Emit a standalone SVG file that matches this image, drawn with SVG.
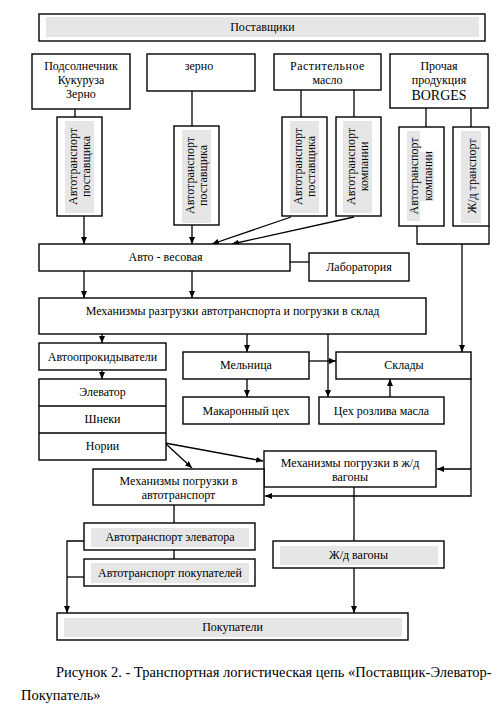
<svg xmlns="http://www.w3.org/2000/svg" width="504" height="708" viewBox="0 0 504 708">
<style>
.b{fill:#fff;stroke:#000;stroke-width:1.4}
.g{fill:#e6e6e6;stroke:none}
text{font-family:'Liberation Serif','DejaVu Serif','Times New Roman',serif}
.t{font-size:12px;fill:#000;text-anchor:middle}
.cap{font-size:14.5px;fill:#000}
#connectors line,#connectors polyline{stroke:#000;stroke-width:1.3;fill:none}
.a{marker-end:url(#arr)}
</style>
<defs>
<marker id="arr" markerUnits="userSpaceOnUse" markerWidth="8" markerHeight="6" refX="7" refY="3" orient="auto">
<path d="M0,0 L7,3 L0,6 z" fill="#000"/>
</marker>
</defs>
<rect width="504" height="708" fill="#fff"/>

<g id="connectors">
<line x1="75" y1="109" x2="75" y2="117"/>
<line x1="192" y1="91" x2="192" y2="126"/>
<line x1="301" y1="90" x2="301" y2="117"/>
<line x1="354" y1="90" x2="354" y2="117"/>
<line x1="426" y1="108" x2="426" y2="127"/>
<line x1="471" y1="108" x2="471" y2="127"/>
<line class="a" x1="84" y1="216" x2="84" y2="244"/>
<line class="a" x1="192" y1="225" x2="192" y2="244"/>
<line class="a" x1="291" y1="217" x2="212" y2="244"/>
<line class="a" x1="354" y1="217" x2="232" y2="244"/>
<line x1="290" y1="262" x2="309" y2="262"/>
<line class="a" x1="84" y1="271" x2="84" y2="298"/>
<line class="a" x1="192" y1="271" x2="192" y2="298"/>
<line class="a" x1="102" y1="334" x2="102" y2="343"/>
<line class="a" x1="102" y1="370" x2="102" y2="379"/>
<line class="a" x1="247" y1="334" x2="247" y2="352"/>
<line class="a" x1="247" y1="379" x2="247" y2="397"/>
<line class="a" x1="328" y1="334" x2="328" y2="397"/>
<line class="a" x1="309" y1="361" x2="336" y2="361"/>
<line class="a" x1="390" y1="397" x2="390" y2="379"/>
<polyline points="417,226 417,244 489,244 489,226"/>
<line class="a" x1="462" y1="244" x2="462" y2="352"/>
<line class="a" x1="165" y1="443" x2="192" y2="468"/>
<line class="a" x1="165" y1="443" x2="263" y2="461"/>
<polyline class="a" points="471,379 471,496 265,496"/>
<line class="a" x1="471" y1="469" x2="437" y2="469"/>
<line x1="354" y1="487" x2="354" y2="541"/>
<line class="a" x1="354" y1="568" x2="354" y2="613"/>
<line x1="174" y1="505" x2="174" y2="523"/>
<line x1="174" y1="550" x2="174" y2="559"/>
<polyline class="a" points="84,541 67,541 67,613"/>
<line x1="67" y1="577" x2="84" y2="577"/>
</g>

<g id="suppliers">
<rect class="b" x="39" y="14" width="446" height="27"/>
<rect class="g" x="46" y="17" width="433" height="20"/>
<text class="t" x="262.5" y="31">Поставщики</text>
</g>

<g id="sunflower">
<rect class="b" x="32" y="54" width="98" height="55"/>
<text class="t" x="81" y="70">Подсолнечник</text>
<text class="t" x="81" y="84">Кукуруза</text>
<text class="t" x="81" y="98">Зерно</text>
</g>

<g id="grain">
<rect class="b" x="147" y="54" width="108" height="37"/>
<text class="t" x="199" y="70">зерно</text>
</g>

<g id="oil">
<rect class="b" x="274" y="54" width="107" height="36"/>
<text class="t" x="327.5" y="70" letter-spacing="0.5">Растительное</text>
<text class="t" x="327.5" y="84">масло</text>
</g>

<g id="borges">
<rect class="b" x="390" y="54" width="98" height="54"/>
<text class="t" x="439" y="70">Прочая</text>
<text class="t" x="439" y="84">продукция</text>
<text class="t" x="439" y="100" style="font-size:14px">BORGES</text>
</g>

<g id="truck1">
<rect class="b" x="57" y="117" width="45" height="99"/>
<rect class="g" x="65" y="121" width="29" height="92"/>
<text class="t" transform="translate(77,166.5) rotate(-90)">Автотранспорт</text>
<text class="t" transform="translate(90,166.5) rotate(-90)">поставщика</text>
</g>

<g id="truck2">
<rect class="b" x="174" y="126" width="45" height="99"/>
<rect class="g" x="182" y="130" width="29" height="93"/>
<text class="t" transform="translate(194,175.5) rotate(-90)">Автотранспорт</text>
<text class="t" transform="translate(207,175.5) rotate(-90)">поставщика</text>
</g>

<g id="truck3">
<rect class="b" x="282" y="117" width="45" height="99"/>
<rect class="g" x="290" y="121" width="29" height="92"/>
<text class="t" transform="translate(302,166.5) rotate(-90)">Автотранспорт</text>
<text class="t" transform="translate(315,166.5) rotate(-90)">поставщика</text>
</g>

<g id="truck4">
<rect class="b" x="336" y="117" width="45" height="99"/>
<rect class="g" x="343" y="121" width="29" height="92"/>
<text class="t" transform="translate(355,166.5) rotate(-90)">Автотранспорт</text>
<text class="t" transform="translate(368,166.5) rotate(-90)">компании</text>
</g>

<g id="truck5">
<rect class="b" x="399" y="127" width="45" height="99"/>
<rect class="g" x="407" y="131" width="13" height="90"/>
<rect class="g" x="420" y="152" width="14" height="49"/>
<text class="t" transform="translate(418,176) rotate(-90)">Автотранспорт</text>
<text class="t" transform="translate(432,176) rotate(-90)">компании</text>
</g>

<g id="rail">
<rect class="b" x="453" y="127" width="36" height="99"/>
<rect class="g" x="461" y="131" width="20" height="92"/>
<text class="t" transform="translate(476,176) rotate(-90)">Ж/д транспорт</text>
</g>

<g id="scales">
<rect class="b" x="39" y="244" width="251" height="27"/>
<text class="t" x="165.5" y="261">Авто - весовая</text>
</g>

<g id="lab">
<rect class="b" x="309" y="253" width="100" height="28"/>
<text class="t" x="359" y="271">Лаборатория</text>
</g>

<g id="unloading">
<rect class="b" x="39" y="298" width="387" height="36"/>
<text class="t" x="232.5" y="315">Механизмы разгрузки автотранспорта и погрузки в склад</text>
</g>

<g id="tippers">
<rect class="b" x="39" y="343" width="127" height="27"/>
<text class="t" x="102.5" y="361">Автоопрокидыватели</text>
</g>

<g id="elevator">
<rect class="b" x="39" y="379" width="127" height="81"/>
<line x1="39" y1="406" x2="166" y2="406" stroke="#000" stroke-width="1.4"/>
<line x1="39" y1="433" x2="166" y2="433" stroke="#000" stroke-width="1.4"/>
<text class="t" x="102.5" y="396">Элеватор</text>
<text class="t" x="102.5" y="423">Шнеки</text>
<text class="t" x="102.5" y="450">Нории</text>
</g>

<g id="mill">
<rect class="b" x="183" y="352" width="126" height="27"/>
<text class="t" x="246" y="369">Мельница</text>
</g>

<g id="warehouses">
<rect class="b" x="336" y="352" width="135" height="27"/>
<text class="t" x="404" y="369">Склады</text>
</g>

<g id="pasta">
<rect class="b" x="183" y="397" width="126" height="27"/>
<text class="t" x="246" y="415">Макаронный цех</text>
</g>

<g id="bottling">
<rect class="b" x="319" y="397" width="125" height="27"/>
<text class="t" x="381.5" y="415">Цех розлива масла</text>
</g>

<g id="railloading">
<rect class="b" x="264" y="451" width="172" height="36"/>
<text class="t" x="350" y="467">Механизмы погрузки в ж/д</text>
<text class="t" x="350" y="481">вагоны</text>
</g>

<g id="truckloading">
<rect class="b" x="93" y="469" width="171" height="36"/>
<text class="t" x="178.5" y="485">Механизмы погрузки в</text>
<text class="t" x="178.5" y="499">автотранспорт</text>
</g>

<g id="elevtrucks">
<rect class="b" x="84" y="523" width="171" height="27"/>
<rect class="g" x="91" y="528" width="158" height="19"/>
<text class="t" x="170" y="541">Автотранспорт элеватора</text>
</g>

<g id="buyertrucks">
<rect class="b" x="84" y="559" width="171" height="27"/>
<rect class="g" x="91" y="563" width="158" height="20"/>
<text class="t" x="170" y="577">Автотранспорт покупателей</text>
</g>

<g id="wagons">
<rect class="b" x="273" y="541" width="171" height="27"/>
<rect class="g" x="280" y="546" width="158" height="19"/>
<text class="t" x="358.5" y="559">Ж/д вагоны</text>
</g>

<g id="buyers">
<rect class="b" x="57" y="613" width="351" height="27"/>
<rect class="g" x="64" y="618" width="338" height="19"/>
<text class="t" x="232.5" y="631">Покупатели</text>
</g>

<g id="caption">
<text class="cap" x="56" y="677">Рисунок 2. - Транспортная логистическая цепь «Поставщик-Элеватор-</text>
<text class="cap" x="21" y="700">Покупатель»</text>
</g>
</svg>
